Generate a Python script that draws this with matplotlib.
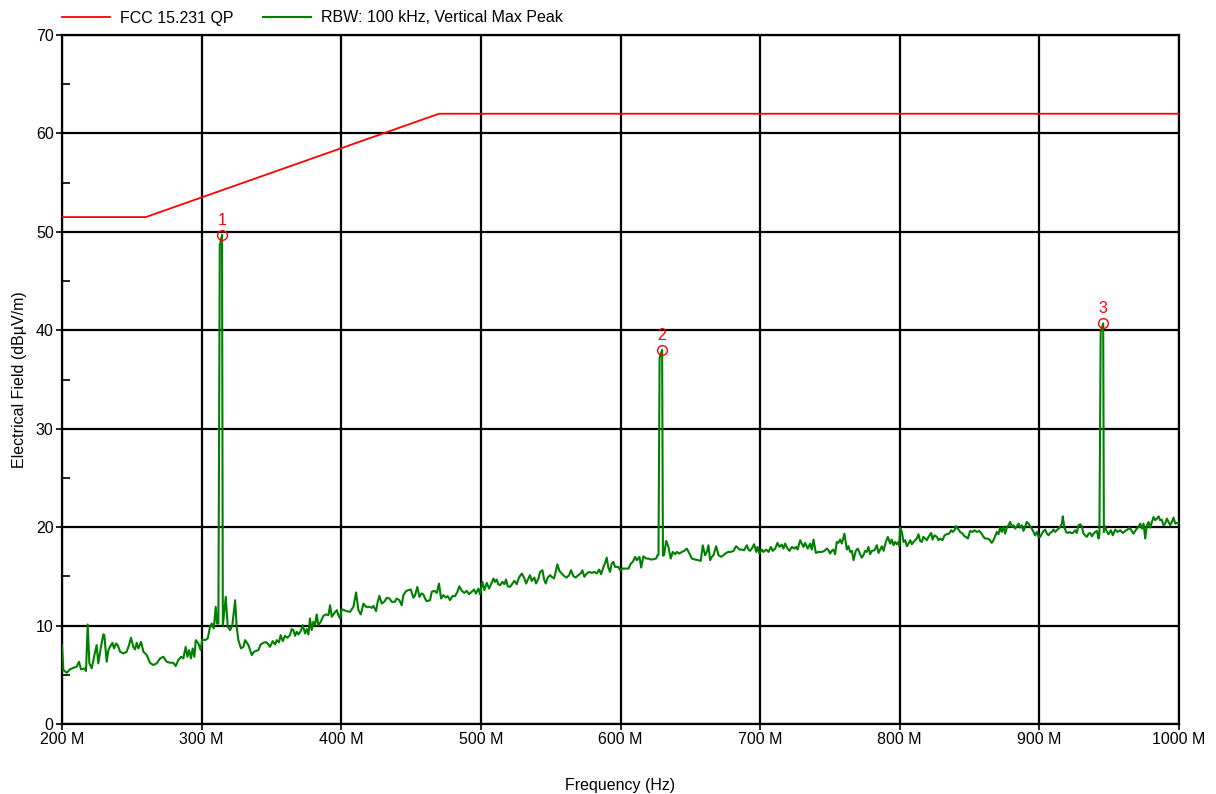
import matplotlib
matplotlib.use("Agg")
import matplotlib.pyplot as plt
from matplotlib.lines import Line2D
from matplotlib.ticker import MultipleLocator, FuncFormatter

plt.rcParams['font.family'] = ['Liberation Sans', 'DejaVu Sans']

# ---- data ----
limit_freq_mhz = [200, 260, 470, 1000]
limit_db = [51.5, 51.5, 62.0, 62.0]

trace_freq_mhz = [
    200.0, 201.0, 203.4, 205.7, 208.1, 210.5, 212.2, 213.6, 216.0, 217.2, 218.4, 219.6, 221.3, 223.2, 224.8,
    226.0, 227.9, 229.6, 230.3, 232.0, 233.2, 234.4, 236.1, 237.3, 238.7, 239.9, 241.6, 244.0, 246.3, 248.0,
    249.4, 251.1, 252.3, 253.5, 254.7, 256.6, 258.3, 260.7, 263.0, 265.4, 267.8, 270.2, 272.6, 275.0, 277.4,
    279.8, 281.4, 283.3, 285.3, 286.9, 288.6, 289.8, 291.0, 292.4, 293.6, 294.8, 295.8, 297.7, 299.3, 300.5,
    302.4, 304.4, 306.0, 307.2, 308.7, 310.1, 311.0, 312.0, 313.0, 314.6, 315.2, 317.3, 318.7, 320.4, 322.0,
    324.0, 325.1, 326.3, 328.2, 329.9, 331.1,
    333.5, 335.9, 337.5, 340.6, 342.3, 344.7, 346.6, 349.0, 350.9, 352.6, 353.8, 355.4, 356.6, 358.1, 359.7,
    361.4, 363.3, 364.5, 365.7, 366.9, 368.1, 369.3, 371.0, 372.4, 374.1, 375.3, 376.5, 377.6, 378.8, 380.0,
    381.2, 382.4, 383.6, 385.3, 387.2, 389.1, 390.8, 392.0, 393.2, 394.8, 396.8, 397.9, 399.1, 400.3, 402.0,
    403.9, 406.3, 408.7, 410.6, 412.3, 414.0, 415.9, 417.8, 420.2, 421.8, 423.0, 424.9, 426.1, 427.3, 429.0,
    430.7, 432.6, 434.5, 436.2, 438.5, 439.7, 441.6, 443.3, 444.5, 446.4, 448.1, 449.8, 451.7, 452.9, 454.5,
    456.0, 457.6, 458.8, 460.0, 461.2, 463.6,
    464.8, 466.7, 468.4, 470.0, 471.5, 473.1, 474.8, 476.2, 477.9, 479.6, 481.5, 483.2, 484.6, 486.3, 488.2,
    489.9, 491.5, 493.4, 495.1, 496.5, 498.2, 499.4, 501.1, 502.5, 504.2, 505.9, 507.3, 509.0, 510.1, 511.3,
    512.5, 513.7, 515.4, 516.8, 518.0, 519.2, 520.9, 522.6, 524.0, 525.7, 527.3, 529.3, 530.9, 532.4, 534.0,
    535.2, 536.4, 538.3, 539.5, 541.2, 542.4, 544.1, 545.3, 546.4, 547.9, 549.6, 550.7, 552.4, 553.6, 554.8,
    556.2, 557.9, 559.8, 561.5, 563.2, 564.6, 566.3, 567.9, 569.8, 571.8, 572.7, 574.1, 575.8, 577.5, 579.4,
    581.3, 583.0, 584.7, 586.1, 587.8, 589.0, 590.1, 591.3, 592.5, 593.7, 594.9, 596.1,
    598.5, 599.7, 601.6, 603.3, 605.7, 607.4, 608.8, 610.5, 611.7, 613.6, 614.8, 616.4, 618.3, 620.0, 621.7,
    623.6, 625.5, 626.5, 627.2, 628.0, 629.8, 630.4, 631.2, 632.7, 634.3, 636.0, 637.4, 639.1, 640.3, 642.2,
    643.9, 645.6, 647.5, 649.4, 651.1, 653.4, 655.8, 657.5, 658.9, 660.6, 661.8, 663.0, 664.2, 665.4, 666.6,
    668.5, 670.2, 672.1, 673.7, 675.7, 677.3, 679.0, 680.9, 682.8, 684.0, 685.2, 686.9, 688.5, 690.5, 691.7,
    692.8, 694.0, 695.7, 697.2, 698.1, 699.5, 701.2, 702.4, 704.3, 706.0, 707.7, 709.1, 710.8, 712.4, 713.9,
    715.5, 716.7, 717.9, 719.6, 721.0, 722.7, 724.4, 725.8, 726.8, 728.7,
    731.0, 732.2, 734.1, 735.8, 737.0, 738.2, 739.9, 741.8, 744.2, 746.1, 747.8, 749.0, 750.1, 751.3, 752.5,
    753.7, 754.9, 756.1, 757.3, 758.5, 760.4, 762.1, 763.3, 764.5, 765.7, 766.9, 768.5, 770.0, 771.6, 772.8,
    774.0, 775.2, 776.4, 777.6, 778.8, 780.0, 781.9, 783.6, 784.8, 786.0, 787.2, 788.4, 790.0, 791.5, 793.1,
    794.3, 795.5, 796.7, 797.9, 799.1, 799.6, 800.3, 801.5, 802.7, 803.9, 805.1, 806.3, 807.5, 808.7, 809.8,
    811.0, 812.2, 813.4, 814.6, 815.8, 817.0, 818.2, 819.4, 820.6, 822.5, 823.5, 824.9, 826.6, 827.8, 829.0,
    830.6, 832.1, 833.7, 835.4, 836.8, 837.8, 839.2, 840.2, 841.6, 843.3, 844.9, 846.4, 847.3, 848.8, 850.4,
    852.1, 853.5, 855.2, 856.9, 858.3, 860.0, 861.2,
    862.8, 864.3, 865.9, 867.1, 868.3, 869.5, 870.7, 871.9, 873.1, 874.3, 875.5, 876.7, 877.9, 879.1, 880.3,
    881.5, 882.7, 883.9, 885.1, 886.2, 887.4, 888.6, 889.8, 891.0, 892.2, 893.4, 894.6, 895.8, 897.0, 898.2,
    899.4, 900.6, 901.8, 903.0, 904.2, 905.4, 906.6, 907.7, 908.9, 910.1, 911.3, 912.5, 913.7, 914.9, 916.1,
    916.8, 917.8, 919.2, 920.2, 921.6, 922.5, 924.0, 925.6, 926.8, 928.0, 929.2, 930.4, 931.6, 932.8, 934.0,
    935.2, 936.4, 937.6, 938.8, 940.0, 941.2, 942.4, 943.0, 943.9, 945.7, 946.2, 946.4, 947.9, 949.5, 951.2,
    952.6, 954.3, 956.0, 957.9, 959.8, 961.5, 963.1, 964.6, 966.2, 967.4, 968.6, 969.8, 971.0, 972.2, 973.4,
    974.6, 975.8, 977.0, 978.2, 979.4, 980.6, 981.8, 983.0, 984.2, 985.4, 986.5, 987.7, 988.9, 990.1, 991.3,
    992.5, 993.7, 994.9, 996.1, 997.3, 998.5, 1000.0,
]

trace_db = [
    8.01, 5.48, 5.21, 5.55, 5.71, 5.82, 6.32, 5.55, 5.65, 5.38, 10.11, 6.16, 5.65, 7.00, 8.01,
    6.16, 7.84, 9.10, 9.03, 6.32, 7.51, 7.84, 8.25, 7.68, 8.18, 8.01, 7.34, 7.17, 7.34, 8.01,
    8.76, 7.84, 7.57, 8.25, 7.68, 8.35, 7.34, 7.00, 6.22, 5.99, 6.16, 6.66, 6.83, 6.32, 6.22,
    6.22, 5.88, 6.49, 6.83, 6.66, 7.84, 6.83, 7.51, 6.66, 7.68, 6.83, 8.52, 8.18, 7.51, 8.59,
    8.52, 8.69, 9.87, 10.21, 9.71, 11.90, 10.21, 10.20, 48.60, 49.70, 10.00, 12.92, 9.87, 9.54, 10.04,
    12.58, 9.87, 8.52, 7.68, 7.84, 8.52,
    8.02, 7.00, 7.34, 7.51, 8.08, 8.29, 8.29, 7.85, 8.42, 8.08, 8.52, 8.29, 9.03, 8.42, 8.96,
    8.76, 9.03, 9.64, 9.54, 8.96, 9.37, 9.10, 9.44, 10.04, 9.20, 9.64, 9.10, 10.72, 9.54, 10.38,
    10.04, 11.13, 10.04, 10.38, 10.99, 11.13, 11.06, 12.07, 10.89, 11.23, 11.57, 11.06, 10.72, 11.67, 11.57,
    11.46, 11.40, 11.90, 13.36, 11.57, 11.13, 12.24, 11.90, 11.90, 11.80, 12.00, 11.46, 12.41, 13.02, 12.24,
    12.41, 12.82, 12.75, 12.41, 12.41, 12.75, 12.58, 12.07, 13.09, 13.50, 13.60, 13.66, 12.82, 13.09, 13.93,
    12.92, 13.26, 13.16, 12.75, 12.48, 12.58,
    13.43, 13.53, 13.32, 14.27, 12.75, 13.09, 12.85, 12.99, 12.58, 12.99, 12.99, 13.43, 14.00, 13.53, 13.32,
    13.53, 13.19, 13.43, 13.66, 13.26, 13.76, 13.19, 14.44, 13.60, 14.34, 13.76, 14.20, 14.78, 14.44, 14.68,
    14.20, 14.10, 14.44, 14.20, 14.68, 14.00, 13.93, 14.27, 14.54, 14.20, 14.88, 15.29, 14.88, 14.27, 14.78,
    15.12, 14.54, 14.88, 14.27, 14.78, 15.45, 15.62, 14.68, 14.27, 14.88, 15.12, 14.95, 14.78, 15.45, 16.23,
    15.56, 15.29, 15.01, 14.88, 15.12, 15.62, 15.01, 14.88, 15.12, 15.35, 15.62, 14.95, 15.29, 15.45, 15.35,
    15.45, 15.29, 15.69, 15.22, 15.96, 16.37, 16.91, 15.89, 15.45, 16.30, 16.47, 15.96,
    15.96, 15.62, 15.79, 15.79, 15.79, 16.30, 16.47, 16.98, 16.64, 16.98, 15.89, 17.04, 16.81, 16.81, 16.71,
    16.74, 16.81, 17.15, 17.20, 37.20, 38.00, 17.10, 17.15, 18.60, 17.99, 16.81, 17.48, 17.25, 17.48, 17.31,
    17.48, 17.59, 17.82, 17.31, 16.81, 16.71, 16.64, 16.57, 18.16, 17.15, 17.48, 18.16, 16.64, 16.98, 17.15,
    18.06, 17.15, 16.98, 17.15, 17.38, 17.48, 17.48, 17.59, 18.06, 17.92, 17.72, 17.72, 17.65, 18.16, 17.72,
    17.59, 17.82, 18.26, 17.48, 17.99, 17.31, 17.72, 17.48, 17.72, 17.48, 17.99, 17.59, 17.82, 18.40, 17.99,
    18.23, 17.82, 18.33, 17.82, 17.59, 17.99, 17.82, 17.99, 17.72, 18.67,
    17.99, 18.40, 17.82, 18.33, 17.72, 18.74, 17.38, 17.48, 17.48, 17.59, 17.82, 17.65, 17.31, 17.59, 17.72,
    17.25, 18.50, 18.40, 18.74, 18.33, 19.34, 17.72, 18.06, 17.48, 17.59, 16.64, 17.59, 17.82, 17.25, 16.91,
    17.15, 17.59, 17.48, 17.99, 17.25, 17.59, 17.65, 18.16, 17.38, 17.72, 18.06, 17.59, 18.50, 19.01, 18.33,
    18.74, 18.16, 18.50, 18.26, 18.50, 18.06, 19.95, 19.51, 18.50, 18.67, 18.06, 18.33, 18.67, 18.26, 18.50,
    18.67, 18.84, 19.28, 18.60, 18.50, 19.01, 18.84, 18.67, 19.01, 19.41, 18.74, 19.17, 19.01, 18.67, 18.84,
    18.67, 19.17, 19.28, 19.34, 19.68, 19.51, 19.68, 20.09, 19.85, 19.51, 19.34, 19.07, 19.01, 18.84, 19.61,
    19.51, 19.68, 19.51, 19.61, 19.41, 19.01, 18.84,
    18.84, 18.74, 18.40, 18.67, 19.07, 19.51, 19.28, 19.95, 19.51, 20.02, 19.34, 19.95, 20.19, 20.53, 20.02,
    20.19, 19.85, 20.09, 20.36, 19.95, 20.19, 19.61, 20.02, 20.53, 20.36, 20.09, 19.85, 19.51, 19.17, 19.51,
    19.01, 19.01, 19.34, 19.61, 19.75, 19.34, 19.17, 19.41, 19.51, 19.75, 19.51, 19.68, 19.85, 20.02, 20.36,
    21.10, 20.02, 19.51, 19.41, 19.51, 19.41, 19.41, 19.68, 19.41, 20.19, 20.29, 20.09, 19.34, 19.17, 19.01,
    19.34, 19.41, 19.07, 19.34, 19.51, 19.61, 18.84, 19.30, 39.80, 40.70, 19.50, 20.19, 19.68, 19.28, 19.68,
    19.17, 19.75, 19.51, 19.68, 19.41, 19.61, 19.75, 19.95, 19.61, 19.34, 19.61, 19.85, 20.02, 20.36, 19.85,
    20.36, 18.84, 20.19, 20.53, 19.95, 20.53, 21.03, 20.70, 20.87, 21.10, 20.70, 20.76, 20.19, 20.36, 20.87,
    20.53, 20.19, 20.53, 20.97, 20.36, 20.43, 20.36,
]

marker_freq_mhz = [314.6, 629.8, 945.7]
marker_db = [49.7, 38.0, 40.7]
marker_labels = ['1', '2', '3']

y_ticks = [0, 10, 20, 30, 40, 50, 60, 70]
x_ticks_mhz = [200, 300, 400, 500, 600, 700, 800, 900, 1000]

# ---- figure ----
W, H = 1216, 794
fig = plt.figure(figsize=(W / 100, H / 100), dpi=100)
ax = fig.add_axes([62 / W, 1 - 724 / H, (1179 - 62) / W, (724 - 35) / H])

ax.plot(limit_freq_mhz, limit_db, color='#ff0000', lw=1.3, zorder=3)
ax.plot(trace_freq_mhz, trace_db, color='#008000', lw=1.5, zorder=3)
ax.plot(marker_freq_mhz, marker_db, linestyle='none', marker='o', markersize=7,
        markerfacecolor='none', markeredgecolor='#ff0000', markeredgewidth=1.0, zorder=4)
for f, v, lab in zip(marker_freq_mhz, marker_db, marker_labels):
    ax.annotate(lab, (f, v), xytext=(0, 5), textcoords='offset points',
                ha='center', va='bottom', color='#ff0000', fontsize=11.5)

ax.set_xlim(200, 1000)
ax.set_ylim(0, 70)
ax.set_xticks(x_ticks_mhz)
ax.xaxis.set_major_formatter(FuncFormatter(lambda v, p: f"{int(round(v))} M"))
ax.set_yticks(y_ticks)
ax.yaxis.set_minor_locator(MultipleLocator(5))
ax.grid(True, which='major', color='black', lw=1.6, zorder=1)
ax.set_axisbelow(True)
for s in ax.spines.values():
    s.set_linewidth(1.6)
    s.set_color('black')
ax.tick_params(axis='both', which='major', length=4, width=1.2, labelsize=11.5, pad=2, color='black')
ax.tick_params(axis='y', which='minor', direction='in', length=5.5, width=1.2)
ax.set_xlabel('Frequency (Hz)', fontsize=11.5, labelpad=22)
ax.set_ylabel('Electrical Field (dBµV/m)', fontsize=11.5, labelpad=6)

handles = [Line2D([], [], color='#ff0000', lw=1.3), Line2D([], [], color='#008000', lw=1.5)]
fig.legend(handles, ['FCC 15.231 QP', 'RBW: 100 kHz, Vertical Max Peak'],
           loc='center left', bbox_to_anchor=(62 / W, 1 - 18 / H), ncol=2, frameon=False,
           fontsize=11.5, handlelength=3.0, handletextpad=0.6, columnspacing=1.9,
           borderpad=0, borderaxespad=0)

fig.savefig('out.png', dpi=100, facecolor='white')
